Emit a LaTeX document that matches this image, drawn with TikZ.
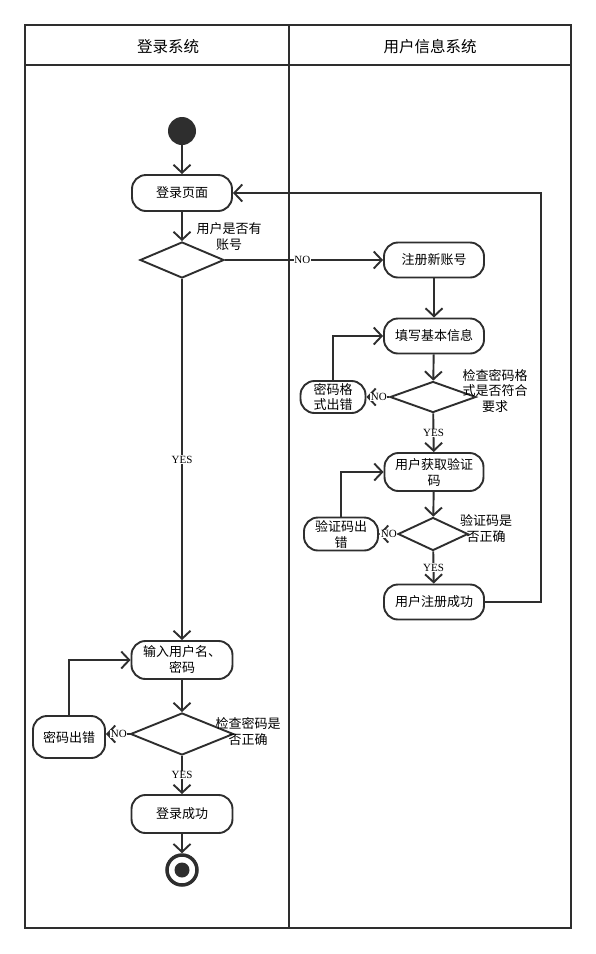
\documentclass[tikz,border=0pt]{standalone}
\usepackage{fontspec}
\setmainfont{Liberation Serif}
\newfontfamily\cjk{Noto Sans CJK SC}
\usetikzlibrary{arrows.meta,shapes.geometric}

\begin{document}
\begin{tikzpicture}[x=1pt,y=-1pt,
  ink/.style={draw=black!82, line width=1.9pt},
  act/.style={ink, rounded corners=14pt, fill=white, align=center,
    font=\cjk\fontsize{13}{16}\selectfont, inner sep=1pt},
  dec/.style={ink, diamond, fill=white, inner sep=0pt},
  note/.style={align=center, font=\cjk\fontsize{13}{16}\selectfont, inner sep=0pt},
  lane/.style={font=\cjk\fontsize{15.5}{18}\selectfont},
  guard/.style={fill=white, inner sep=0.5pt, font=\fontsize{11}{12}\selectfont},
  flow/.style={ink, -{Straight Barb[length=8pt,width=17pt]}}]

  % page and swimlane frame
  \fill[white] (0,0) rectangle (596,954);
  \useasboundingbox (0,0) rectangle (596,954);
  \draw[ink] (25,25) rectangle (571,928);
  \draw[ink] (25,65) -- (571,65);
  \draw[ink] (289,25) -- (289,928);
  \node[lane] (laneA) at (168,47) {登录系统};
  \node[lane] (laneB) at (430,47) {用户信息系统};

  % login lane
  \node[circle, fill=black!82, minimum size=28pt, inner sep=0pt] (start) at (182,131) {};
  \node[act, minimum width=100pt, minimum height=36pt] (login) at (182,193) {登录页面};
  \node[dec, minimum width=84pt, minimum height=36pt] (d1) at (182,260) {};
  \node[note] (q1) at (229,237) {用户是否有\\账号};
  \node[act, minimum width=101pt, minimum height=38pt] (input) at (182,660) {输入用户名、\\密码};
  \node[dec, minimum width=103pt, minimum height=42pt] (d4) at (182,734) {};
  \node[note] (q4) at (248,731) {检查密码是\\否正确};
  \node[act, minimum width=72pt, minimum height=42pt] (e3) at (69,737) {密码出错};
  \node[act, minimum width=101pt, minimum height=38pt] (success) at (182,814) {登录成功};
  \node[circle, ink, line width=3.5pt, minimum size=30pt, inner sep=0pt] (end) at (182,870) {};
  \node[circle, fill=black!82, minimum size=15pt, inner sep=0pt] (endcore) at (end) {};

  % user information lane
  \node[act, minimum width=100pt, minimum height=35pt] (reg) at (434,260) {注册新账号};
  \node[act, minimum width=100pt, minimum height=35pt] (info) at (434,336) {填写基本信息};
  \node[dec, minimum width=86pt, minimum height=31pt] (d2) at (433,397) {};
  \node[note] (q2) at (495,391) {检查密码格\\式是否符合\\要求};
  \node[act, minimum width=65pt, minimum height=32pt] (e1) at (333,397) {密码格\\式出错};
  \node[act, minimum width=99pt, minimum height=38pt] (code) at (434,472) {用户获取验证\\码};
  \node[dec, minimum width=70pt, minimum height=33pt] (d3) at (433,534) {};
  \node[note] (q3) at (486,529) {验证码是\\否正确};
  \node[act, minimum width=74pt, minimum height=33pt] (e2) at (341,534) {验证码出\\错};
  \node[act, minimum width=100pt, minimum height=35pt] (ok) at (434,602) {用户注册成功};
  \coordinate (back) at (541,193);

  % control flow
  \draw[flow] (start) -- (login);
  \draw[flow] (login) -- (d1);
  \draw[flow] (d1) -- node[guard, pos=0.49] {NO} (reg);
  \draw[flow] (d1) -- node[guard] {YES} (input);
  \draw[flow] (reg) -- (info);
  \draw[flow] (info) -- (d2);
  \draw[flow] (d2.west) -- node[guard, pos=0.45] {NO} (e1.east);
  \draw[flow] (e1.north) |- (info.west);
  \draw[flow] (d2) -- node[guard] {YES} (code);
  \draw[flow] (code) -- (d3);
  \draw[flow] (d3.west) -- node[guard, pos=0.45] {NO} (e2.east);
  \draw[flow] (e2.north) |- (code.west);
  \draw[flow] (d3) -- node[guard] {YES} (ok);
  \draw[flow] (ok.east) -| (back) -- (login.east);
  \draw[flow] (input) -- (d4);
  \draw[flow] (d4.west) -- node[guard, pos=0.45] {NO} (d4.west -| e3.east);
  \draw[flow] (e3.north) |- (input.west);
  \draw[flow] (d4) -- node[guard] {YES} (success);
  \draw[flow] (success) -- (end);
\end{tikzpicture}
\end{document}
